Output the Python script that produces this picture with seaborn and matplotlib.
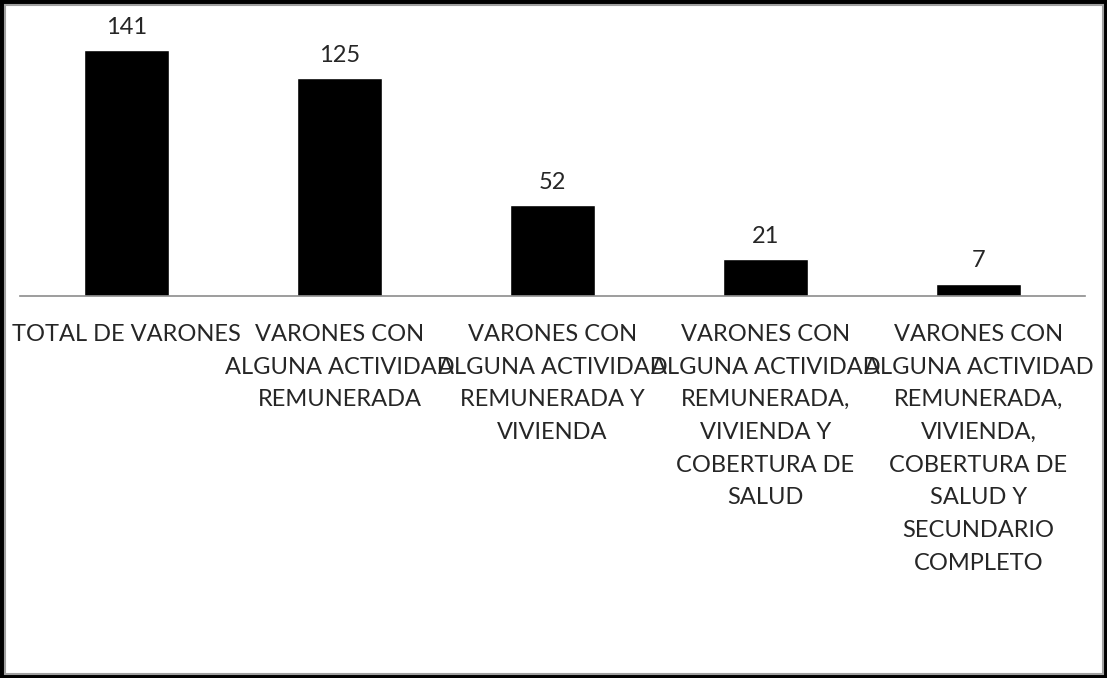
import pandas as pd
import seaborn as sns
import matplotlib.pyplot as plt
from matplotlib.patches import Rectangle

# categories and counts
categorias = [
    "TOTAL DE VARONES",
    "VARONES CON\nALGUNA ACTIVIDAD\nREMUNERADA",
    "VARONES CON\nALGUNA ACTIVIDAD\nREMUNERADA Y\nVIVIENDA",
    "VARONES CON\nALGUNA ACTIVIDAD\nREMUNERADA,\nVIVIENDA Y\nCOBERTURA DE\nSALUD",
    "VARONES CON\nALGUNA ACTIVIDAD\nREMUNERADA,\nVIVIENDA,\nCOBERTURA DE\nSALUD Y\nSECUNDARIO\nCOMPLETO",
]
valores = [141, 125, 52, 21, 7]

df = pd.DataFrame({"cat": categorias, "n": valores})

sns.set_style("white")
plt.rcParams['font.family'] = ['Lato', 'DejaVu Sans']

fig = plt.figure(figsize=(11.07, 6.78), dpi=100)
ax = fig.add_axes([20 / 1107, 382 / 678, 1065 / 1107, 279 / 678])

sns.barplot(data=df, x="cat", y="n", color="black", width=0.4, saturation=1, ax=ax)
for c in ax.containers:
    ax.bar_label(c, padding=9, fontsize=17)

ax.set_ylim(0, 160)
ax.set_xlim(-0.5, len(valores) - 0.5)
ax.set(xlabel=None, ylabel=None)
ax.set_yticks([])
ax.tick_params(axis="x", length=0, pad=20, labelsize=17)
for lbl in ax.get_xticklabels():
    lbl.set_linespacing(1.69)
    lbl.set_verticalalignment("top")
for s in ["top", "right", "left"]:
    ax.spines[s].set_visible(False)
ax.spines["bottom"].set_color("#8c8c8c")
ax.spines["bottom"].set_linewidth(1.2)

# outer frame with shadow
fig.patches.append(Rectangle((1.5 / 1107, 1.5 / 678), 1 - 3 / 1107, 1 - 3 / 678,
                             transform=fig.transFigure, fill=False, ec="black", lw=3))
fig.patches.append(Rectangle((4.5 / 1107, 4.5 / 678), 1 - 9 / 1107, 1 - 9 / 678,
                             transform=fig.transFigure, fill=False, ec="#a0a0a0", lw=1.5))

plt.savefig("out.png", dpi=100)
